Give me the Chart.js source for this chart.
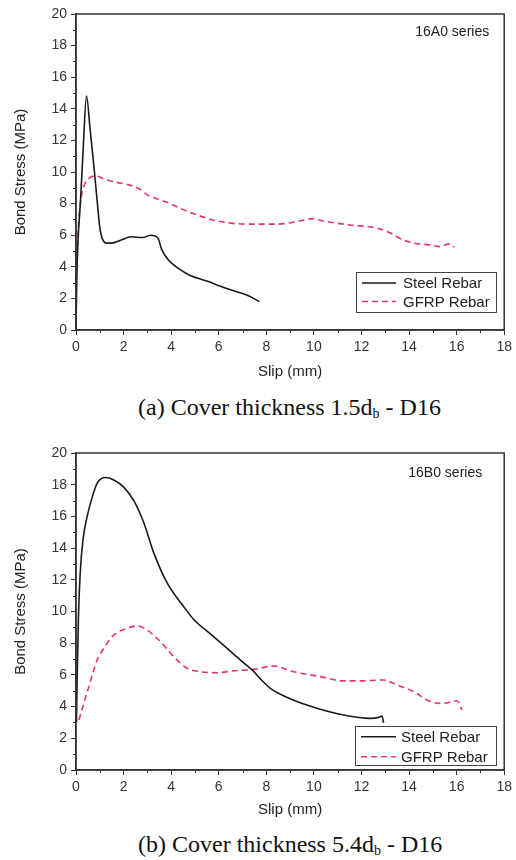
<!DOCTYPE html>
<html>
<head>
<meta charset="utf-8">
<script src="https://cdn.jsdelivr.net/npm/chart.js@4/dist/chart.umd.min.js"></script>
<style>
  html, body { margin: 0; padding: 0; background: #fff; }
  body { width: 516px; height: 860px; position: relative; overflow: hidden; }
  canvas { position: absolute; left: 0; }
  .cap { position: absolute; white-space: nowrap; font-family: "Liberation Serif", "Times New Roman", serif;
         font-size: 24px; line-height: 1; color: #111; }
  .cap sub { font-size: 14px; vertical-align: -3px; line-height: 0; }
</style>
</head>
<body>
<canvas id="c1" width="516" height="384" style="top:0px"></canvas>
<canvas id="c2" width="516" height="387" style="top:435px"></canvas>
<div class="cap" style="left:138px; top:395px;">(a) Cover thickness 1.5d<sub>b</sub> - D16</div>
<div class="cap" style="left:138px; top:832px;">(b) Cover thickness 5.4d<sub>b</sub> - D16</div>
<script>
// ---------- Data ----------
const seriesNames = ['Steel Rebar', 'GFRP Rebar'];
const panelTitles = ['16A0 series', '16B0 series'];
const xTitle = 'Slip (mm)';
const yTitle = 'Bond Stress (MPa)';
const xMin = 0, xMax = 18, xStep = 2;
const yMin = 0, yMax = 20, yStep = 2;

// Panel (a) 16A0
const slipA_steel   = [0, 0.03, 0.08, 0.19, 0.3, 0.44, 0.6, 0.75, 0.9, 1.0, 1.1, 1.3, 1.5, 1.9, 2.3, 2.8, 3.15, 3.45, 3.6, 3.85, 4.4, 4.8, 5.5, 6.1, 6.6, 7.2, 7.7];
const stressA_steel = [0, 3.0, 5.5, 8.2, 11.4, 14.8, 12.6, 10.4, 8.0, 6.5, 5.8, 5.5, 5.5, 5.7, 5.9, 5.85, 6.0, 5.8, 5.1, 4.5, 3.8, 3.45, 3.1, 2.75, 2.5, 2.2, 1.8];
const slipA_gfrp    = [0.02, 0.1, 0.2, 0.33, 0.55, 0.85, 1.2, 1.7, 2.2, 2.7, 3.0, 3.8, 4.7, 5.8, 6.6, 7.5, 8.5, 9.4, 10.0, 10.4, 11.5, 12.65, 13.2, 13.75, 14.2, 14.9, 15.25, 15.7, 15.9];
const stressA_gfrp  = [4.0, 6.5, 8.2, 9.1, 9.6, 9.75, 9.55, 9.35, 9.2, 8.9, 8.55, 8.1, 7.5, 6.95, 6.75, 6.7, 6.7, 6.9, 7.05, 6.9, 6.65, 6.45, 6.15, 5.7, 5.5, 5.38, 5.28, 5.45, 5.25];

// Panel (b) 16B0
const slipB_steel   = [0.02, 0.05, 0.1, 0.18, 0.3, 0.47, 0.68, 0.89, 1.24, 1.59, 2.0, 2.43, 2.85, 3.27, 3.83, 4.53, 4.95, 5.8, 6.9, 7.45, 7.75, 8.17, 9.0, 10.13, 11.25, 12.37, 12.72, 12.86, 12.93];
const stressB_steel = [3.0, 6.0, 9.5, 12.5, 14.6, 16.0, 17.2, 18.1, 18.45, 18.3, 17.85, 17.0, 15.6, 13.7, 11.8, 10.3, 9.5, 8.4, 6.95, 6.25, 5.75, 5.15, 4.5, 3.9, 3.47, 3.26, 3.32, 3.41, 2.98];
const slipB_gfrp    = [0.12, 0.54, 0.89, 1.17, 1.59, 2.15, 2.57, 2.99, 3.55, 4.11, 4.67, 5.23, 5.93, 6.63, 7.47, 8.31, 9.15, 10.27, 11.25, 11.82, 12.93, 13.5, 14.19, 14.9, 15.45, 16.01, 16.23];
const stressB_gfrp  = [3.15, 5.26, 6.94, 7.68, 8.52, 8.94, 9.09, 8.83, 8.1, 7.15, 6.42, 6.2, 6.14, 6.26, 6.35, 6.56, 6.2, 5.89, 5.62, 5.62, 5.68, 5.36, 4.94, 4.31, 4.2, 4.37, 3.79];

// ---------- Helpers ----------
const pts = (xs, ys) => xs.map((x, i) => ({ x: x, y: ys[i] }));
const AXIS = '#333';
const FONT = '"Liberation Sans", Arial, sans-serif';

const frameAndMinor = {
  id: 'frameAndMinor',
  afterDraw(chart) {
    const { ctx, chartArea: a, scales } = chart;
    ctx.save();
    ctx.strokeStyle = AXIS;
    ctx.lineWidth = 1.5;
    ctx.strokeRect(a.left, a.top, a.right - a.left, a.bottom - a.top);
    ctx.lineWidth = 1;
    ctx.beginPath();
    for (let v = xMin + 1; v < xMax; v += 2) {
      const px = Math.round(scales.x.getPixelForValue(v)) + 0.5;
      ctx.moveTo(px, a.bottom); ctx.lineTo(px, a.bottom + 3);
    }
    for (let v = yMin + 1; v < yMax; v += 2) {
      const py = Math.round(scales.y.getPixelForValue(v)) + 0.5;
      ctx.moveTo(a.left, py); ctx.lineTo(a.left - 3, py);
    }
    ctx.stroke();
    ctx.restore();
  }
};

const boxLegend = {
  id: 'boxLegend',
  afterDraw(chart, args, o) {
    const { ctx, chartArea: a } = chart;
    const x0 = Math.round(a.right - o.right - o.width);
    const y0 = Math.round(a.bottom - o.bottom - o.height);
    ctx.save();
    ctx.fillStyle = '#fff';
    ctx.fillRect(x0, y0, o.width, o.height);
    ctx.strokeStyle = '#444';
    ctx.lineWidth = 1;
    ctx.strokeRect(x0 + 0.5, y0 + 0.5, o.width, o.height);
    chart.data.datasets.forEach((ds, i) => {
      const yy = y0 + o.rowTop + i * o.rowGap;
      ctx.beginPath();
      ctx.setLineDash(ds.borderDash || []);
      ctx.strokeStyle = ds.borderColor;
      ctx.lineWidth = ds.borderWidth;
      ctx.moveTo(x0 + o.lineX, yy);
      ctx.lineTo(x0 + o.lineX + o.lineLen, yy);
      ctx.stroke();
      ctx.setLineDash([]);
      ctx.fillStyle = '#222';
      ctx.font = '15px ' + FONT;
      ctx.textBaseline = 'middle';
      ctx.textAlign = 'left';
      ctx.fillText(ds.label, x0 + o.textX, yy + 1);
    });
    ctx.restore();
  }
};

const panelLabel = {
  id: 'panelLabel',
  afterDraw(chart, args, o) {
    const { ctx, chartArea: a } = chart;
    ctx.save();
    ctx.fillStyle = '#222';
    ctx.font = '14px ' + FONT;
    ctx.textAlign = 'right';
    ctx.textBaseline = 'middle';
    ctx.fillText(o.text, a.right - o.dx, a.top + o.dy);
    ctx.restore();
  }
};

function makeChart(id, steelX, steelY, gfrpX, gfrpY, L) {
  return new Chart(document.getElementById(id), {
    type: 'line',
    data: {
      datasets: [
        { label: seriesNames[0], data: pts(steelX, steelY), borderColor: '#1a1a1a', borderWidth: 1.6,
          pointRadius: 0, cubicInterpolationMode: 'monotone', fill: false },
        { label: seriesNames[1], data: pts(gfrpX, gfrpY), borderColor: '#e8336b', borderWidth: 1.6,
          borderDash: [6, 4], pointRadius: 0, cubicInterpolationMode: 'monotone', fill: false }
      ]
    },
    options: {
      responsive: false,
      animation: false,
      events: [],
      layout: { padding: { left: 0, top: L.top, right: L.right, bottom: 0 } },
      plugins: {
        legend: { display: false },
        tooltip: { enabled: false },
        boxLegend: L.legend,
        panelLabel: L.label
      },
      scales: {
        x: {
          type: 'linear', min: xMin, max: xMax,
          ticks: { stepSize: xStep, color: '#333', font: { family: FONT, size: 14 }, padding: 4, maxRotation: 0 },
          grid: { drawOnChartArea: false, drawTicks: true, tickLength: 5, color: AXIS },
          border: { display: true, color: AXIS, width: 1.5 },
          title: { display: true, text: xTitle, color: '#222', font: { family: FONT, size: 15 }, padding: { top: 0, bottom: 3 } },
          afterFit: s => { s.height = L.xHeight; }
        },
        y: {
          type: 'linear', min: yMin, max: yMax,
          ticks: { stepSize: yStep, color: '#333', font: { family: FONT, size: 14 }, padding: 4 },
          grid: { drawOnChartArea: false, drawTicks: true, tickLength: 5, color: AXIS },
          border: { display: true, color: AXIS, width: 1.5 },
          title: { display: true, text: yTitle, color: '#222', font: { family: FONT, size: 15 }, padding: { top: 12, bottom: 0 } },
          afterFit: s => { s.width = 76; }
        }
      }
    },
    plugins: [frameAndMinor, boxLegend, panelLabel]
  });
}

makeChart('c1', slipA_steel, stressA_steel, slipA_gfrp, stressA_gfrp, {
  top: 14, right: 11, xHeight: 54,
  legend: { right: 8, bottom: 18, width: 140, height: 40, rowTop: 11, rowGap: 18.5, lineX: 6, lineLen: 34, textX: 47 },
  label: { text: panelTitles[0], dx: 15, dy: 18 }
});
makeChart('c2', slipB_steel, stressB_steel, slipB_gfrp, stressB_gfrp, {
  top: 18, right: 11, xHeight: 52,
  legend: { right: 8, bottom: 5, width: 141, height: 39, rowTop: 10.7, rowGap: 20, lineX: 6, lineLen: 35, textX: 46 },
  label: { text: panelTitles[1], dx: 22, dy: 20 }
});
</script>
</body>
</html>
